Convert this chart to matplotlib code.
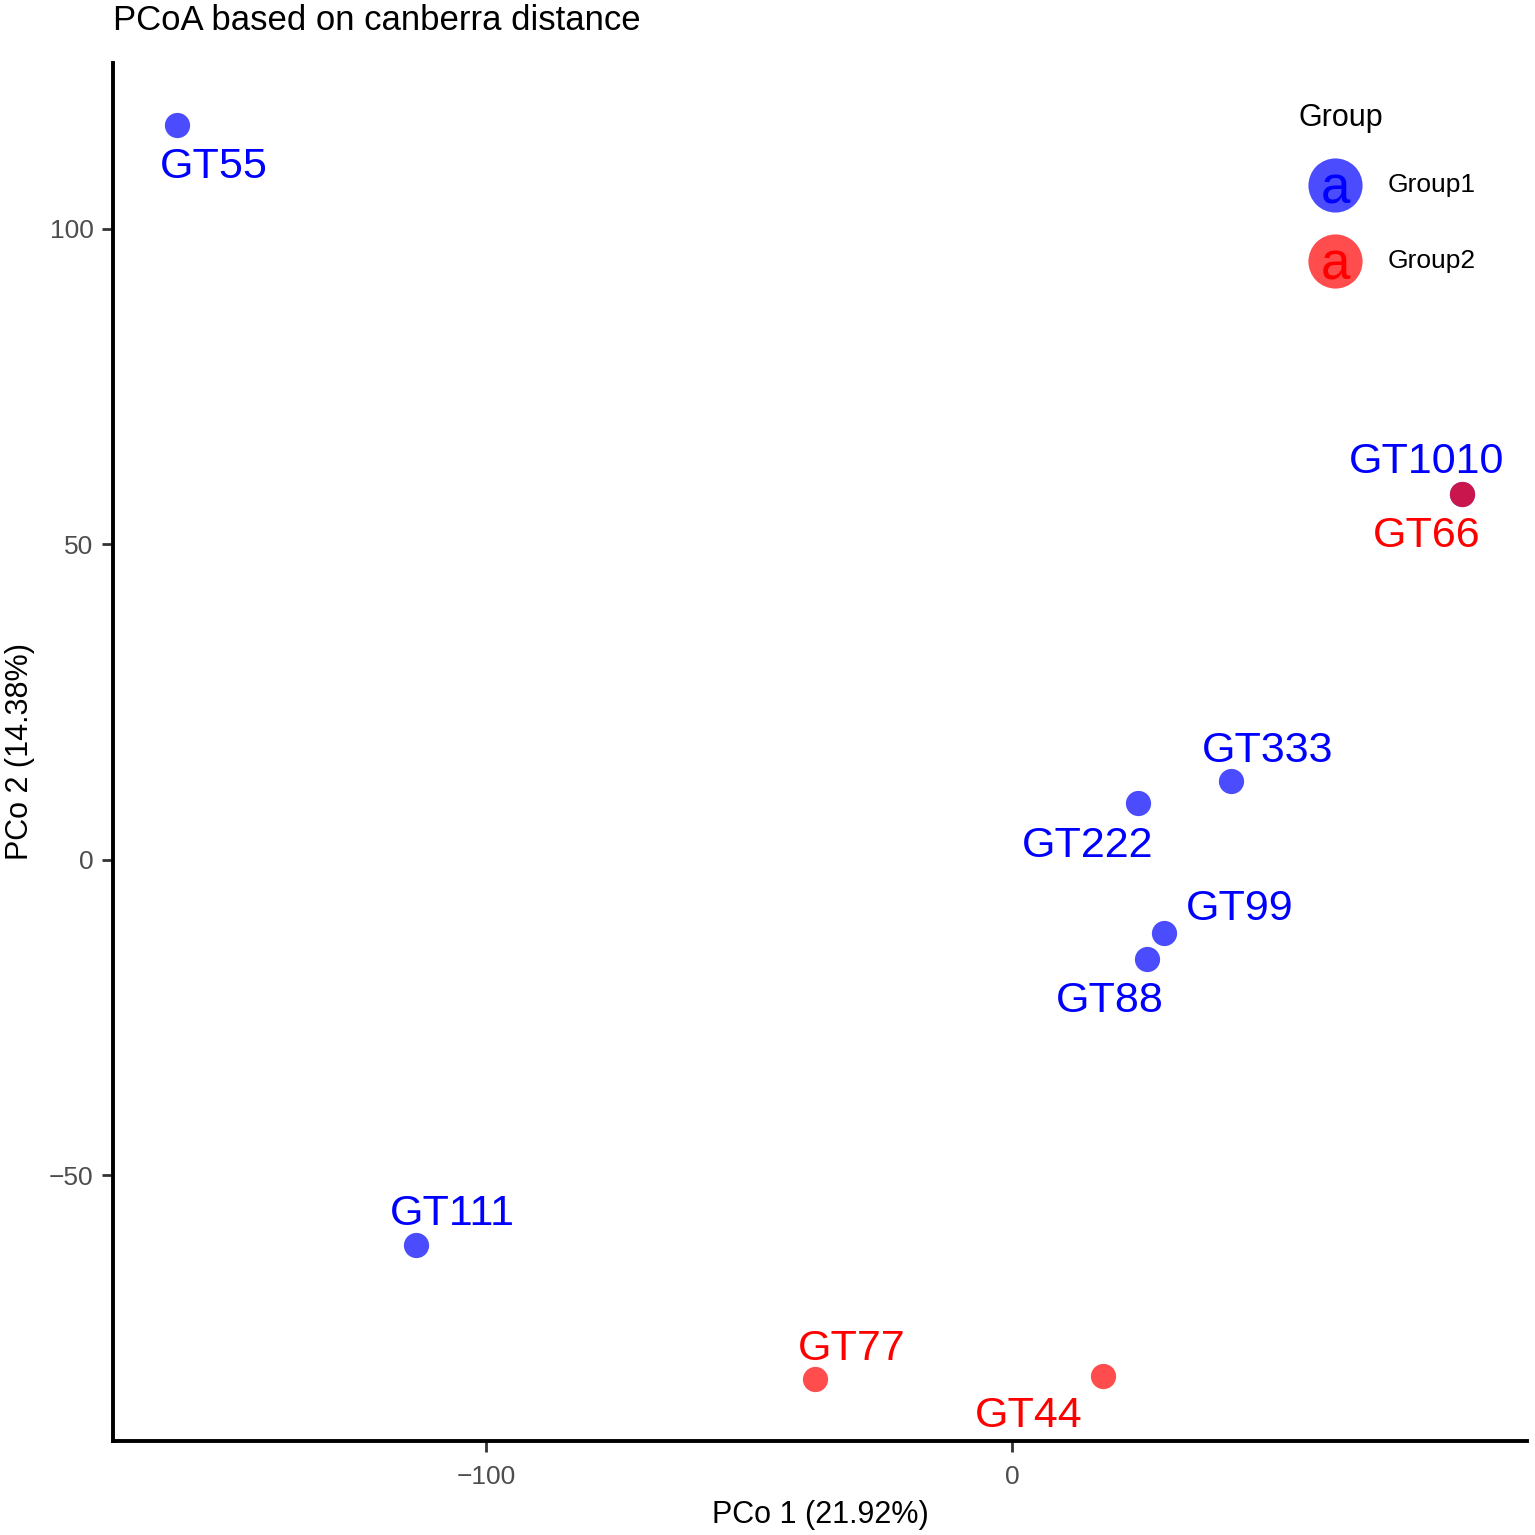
import matplotlib
matplotlib.use("Agg")
import matplotlib.pyplot as plt
from matplotlib.lines import Line2D

plt.rcParams['font.family'] = ['Liberation Sans', 'DejaVu Sans']

# sample scores
samples = ["GT55", "GT1010", "GT333", "GT222", "GT99", "GT88", "GT111",
           "GT66", "GT77", "GT44"]
pco1 = [-158.7, 85.6, 41.6, 24.0, 28.9, 25.7, -113.3, 85.6, -37.5, 17.3]
pco2 = [116.5, 58.0, 12.5, 9.0, -11.6, -15.7, -61.0, 58.0, -82.3, -81.8]
groups = ["Group1"] * 7 + ["Group2"] * 3

# label offsets in pixels (where ggrepel put them)
label_dx = [37, -36, 37, -51, 76, -37, 36, -36, 37, -74]
label_dy = [-38, 36, 35, -38, 29, -38, 35, -38, 35, -35]

colors = {"Group1": "#0000FF", "Group2": "#FF0000"}

fig = plt.figure(figsize=(15.35, 15.35), dpi=100)
ax = fig.add_axes([113 / 1535, 1 - 1441 / 1535, (1527 - 113) / 1535, (1441 - 63) / 1535])

for g in ["Group1", "Group2"]:
    xs = [x for x, gg in zip(pco1, groups) if gg == g]
    ys = [y for y, gg in zip(pco2, groups) if gg == g]
    ax.scatter(xs, ys, s=330, color=colors[g], alpha=0.7, linewidths=0, zorder=3)

for name, x, y, g, dx, dy in zip(samples, pco1, pco2, groups, label_dx, label_dy):
    ax.annotate(name, (x, y), xytext=(dx, dy), textcoords='offset pixels',
                ha='center', va='center_baseline', fontsize=31, color=colors[g], zorder=4)

ax.set_xlim(-170.9, 97.9)
ax.set_ylim(-92.1, 126.3)
ax.set_xticks([-100, 0])
ax.set_xticklabels(["\u2212100", "0"])
ax.set_yticks([-50, 0, 50, 100])
ax.set_yticklabels(["\u221250", "0", "50", "100"])

for side in ["top", "right"]:
    ax.spines[side].set_visible(False)
for side in ["left", "bottom"]:
    ax.spines[side].set_linewidth(2.8)
    ax.spines[side].set_color("black")
ax.tick_params(length=8, width=2, color="#333333", labelsize=19, labelcolor="#4d4d4d")
ax.tick_params(axis='x', pad=9)
ax.tick_params(axis='y', pad=6)

ax.set_xlabel("PCo 1 (21.92%)", fontsize=22, labelpad=8)
ax.set_ylabel("PCo 2 (14.38%)", fontsize=22, labelpad=10)
fig.text(113 / 1535, 1 - 21 / 1535, "PCoA based on canberra distance", fontsize=25,
         ha='left', va='center')

# legend drawn by hand, ggplot style with the text key
fig.text(1298 / 1535, 1 - 118 / 1535, "Group", fontsize=22, ha='left', va='center')
for i, g in enumerate(["Group1", "Group2"]):
    cy = 1 - (185 + 76 * i) / 1535
    fig.add_artist(Line2D([1335 / 1535], [cy], marker='o', markersize=39,
                          color=colors[g], alpha=0.7, markeredgewidth=0,
                          transform=fig.transFigure))
    fig.text(1335 / 1535, cy - 4 / 1535, "a", fontsize=38, color=colors[g],
             ha='center', va='center')
    fig.text(1388 / 1535, cy, g, fontsize=19, ha='left', va='center')

fig.savefig("out.png", dpi=100, facecolor="white")
